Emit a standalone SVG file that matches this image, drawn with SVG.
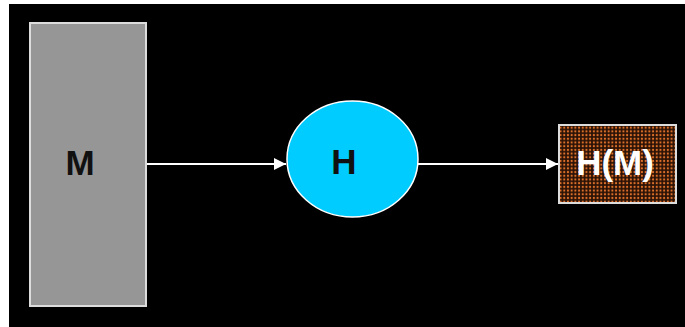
<svg xmlns="http://www.w3.org/2000/svg" width="685" height="327" viewBox="0 0 685 327">
  <defs>
    <style>
      .lbl { font-family: "Liberation Sans", Arial, sans-serif; font-weight: bold; font-size: 35px; text-anchor: middle; }
      .conn { stroke: #ffffff; stroke-width: 2; fill: none; }
    </style>
    <pattern id="dots" width="3.7" height="3.7" patternUnits="userSpaceOnUse">
      <rect width="3.7" height="3.7" fill="#2a1206"/>
      <circle cx="1.85" cy="1.85" r="1.1" fill="#e0702a"/>
    </pattern>
    <marker id="arrow" viewBox="0 0 10 10" refX="10" refY="5" markerWidth="12" markerHeight="12" markerUnits="userSpaceOnUse" orient="auto">
      <path d="M0,0 L10,5 L0,10 z" fill="#ffffff"/>
    </marker>
  </defs>
  <rect x="0" y="0" width="685" height="327" fill="#ffffff"/>
  <rect x="9" y="4" width="676" height="323" fill="#000000"/>
  <g id="connectors">
    <line class="conn" x1="147" y1="164" x2="286" y2="164" marker-end="url(#arrow)"/>
    <line class="conn" x1="418" y1="164" x2="558" y2="164" marker-end="url(#arrow)"/>
  </g>
  <g id="node-M">
    <rect x="30" y="23" width="116" height="283" fill="#969696" stroke="#dcdcdc" stroke-width="2"/>
    <text class="lbl" x="80" y="175" fill="#111111">M</text>
  </g>
  <g id="node-H">
    <ellipse cx="352.5" cy="159" rx="65.5" ry="58" fill="#00ccff" stroke="#ffffff" stroke-width="1.5"/>
    <text class="lbl" x="344" y="174" fill="#111111">H</text>
  </g>
  <g id="node-HM">
    <rect x="559" y="125" width="117" height="78" fill="url(#dots)" stroke="#dcdcdc" stroke-width="2"/>
    <text class="lbl" x="615" y="175" fill="#ffffff">H(M)</text>
  </g>
</svg>
